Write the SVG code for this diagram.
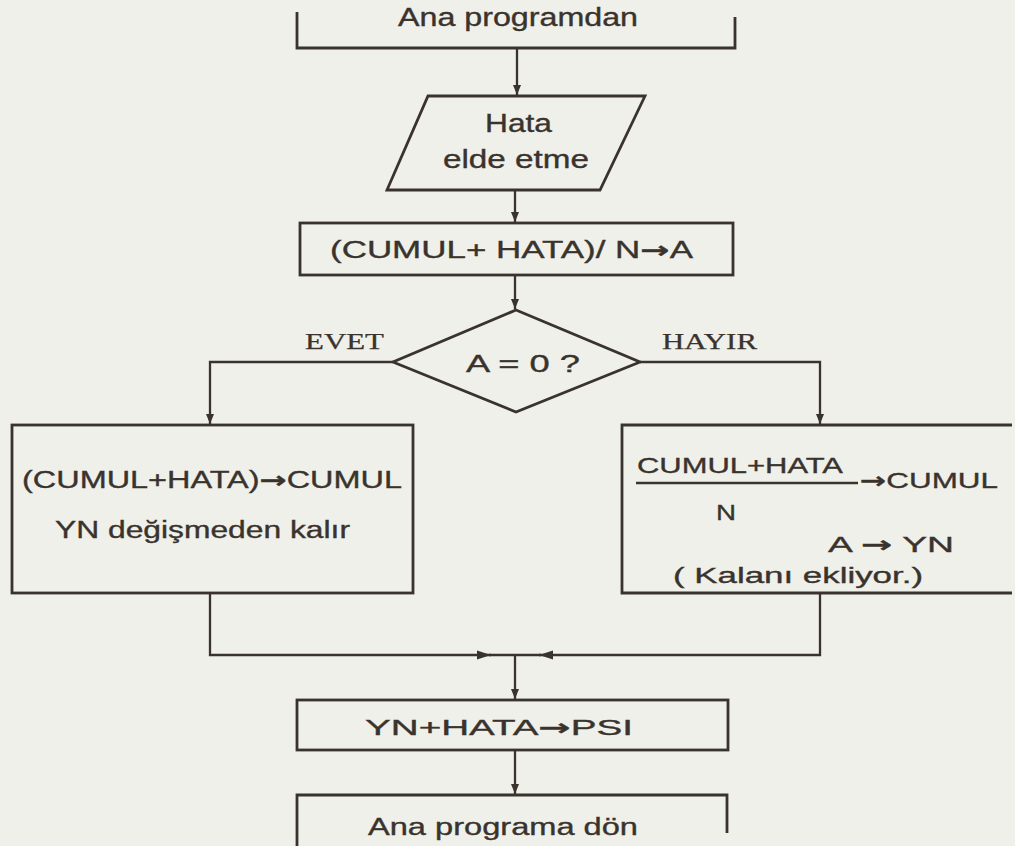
<svg xmlns="http://www.w3.org/2000/svg" width="1015" height="846" viewBox="0 0 1015 846">
  <style>
    .bg { fill: #eff0ea; }
    .shape { fill: none; stroke: #3a332d; stroke-width: 2.8; stroke-linejoin: miter; }
    .wire { fill: none; stroke: #3a332d; stroke-width: 2.3; }
    .lbl { font-family: "Liberation Sans", Arial, sans-serif; fill: #3a332d; stroke: #3a332d; stroke-width: 0.35; }
    .tag { font-family: "Liberation Serif", "Times New Roman", serif; fill: #3a332d; stroke: #3a332d; stroke-width: 0.25; }
    .arr { font-family: "DejaVu Sans", sans-serif; font-weight: bold; }
  </style>
  <defs>
    <marker id="arrow" viewBox="0 0 10 10" refX="10" refY="5" markerWidth="10" markerHeight="11" markerUnits="userSpaceOnUse" orient="auto">
      <path d="M0,1 L10,5 L0,9 Z" fill="#3a332d"/>
    </marker>
    <marker id="arrowBold" viewBox="0 0 14 10" refX="14" refY="5" markerWidth="14" markerHeight="10" markerUnits="userSpaceOnUse" orient="auto">
      <path d="M0,0.5 L14,5 L0,9.5 Z" fill="#3a332d"/>
    </marker>
  </defs>

  <rect class="bg" x="0" y="0" width="1015" height="846"/>

  <!-- entry from main program -->
  <g id="n-start">
    <path class="shape" d="M297,12 V48 H735 V17"/>
    <text class="lbl" x="398" y="26" font-size="25" textLength="240" lengthAdjust="spacingAndGlyphs">Ana programdan</text>
  </g>

  <!-- error input -->
  <g id="n-input">
    <polygon class="shape" points="428,96 645,96 600,190 387,190"/>
    <text class="lbl" x="485" y="132" font-size="25" textLength="67" lengthAdjust="spacingAndGlyphs">Hata</text>
    <text class="lbl" x="443" y="168" font-size="25" textLength="146" lengthAdjust="spacingAndGlyphs">elde etme</text>
  </g>

  <!-- average computation -->
  <g id="n-compute">
    <rect class="shape" x="300" y="223" width="433" height="52"/>
    <text class="lbl" x="330" y="258" font-size="23" textLength="363" lengthAdjust="spacingAndGlyphs">(CUMUL+ HATA)/ N<tspan class="arr">→</tspan>A</text>
  </g>

  <!-- zero test -->
  <g id="n-decision">
    <polygon class="shape" points="516,310 640,362 516,412 393,362"/>
    <text class="lbl" x="466" y="372" font-size="23" textLength="114" lengthAdjust="spacingAndGlyphs">A = 0 ?</text>
  </g>

  <!-- yes branch -->
  <g id="n-yes">
    <rect class="shape" x="12" y="425" width="401" height="168"/>
    <text class="lbl" x="22" y="488" font-size="23" textLength="380" lengthAdjust="spacingAndGlyphs">(CUMUL+HATA)<tspan class="arr">→</tspan>CUMUL</text>
    <text class="lbl" x="55" y="538" font-size="23" textLength="295" lengthAdjust="spacingAndGlyphs">YN değişmeden kalır</text>
  </g>

  <!-- no branch -->
  <g id="n-no">
    <path class="shape" d="M1012,425 H622 V593 H1012"/>
    <text class="lbl" x="637" y="473" font-size="22" textLength="206" lengthAdjust="spacingAndGlyphs">CUMUL+HATA</text>
    <line class="wire" x1="636" y1="483" x2="858" y2="483"/>
    <text class="lbl" x="860" y="488" font-size="22" textLength="138" lengthAdjust="spacingAndGlyphs"><tspan class="arr">→</tspan>CUMUL</text>
    <text class="lbl" x="716" y="520" font-size="22" textLength="20" lengthAdjust="spacingAndGlyphs">N</text>
    <text class="lbl" x="828" y="552" font-size="22" textLength="126" lengthAdjust="spacingAndGlyphs">A <tspan class="arr">→</tspan> YN</text>
    <text class="lbl" x="673" y="583" font-size="22" textLength="250" lengthAdjust="spacingAndGlyphs">( Kalanı ekliyor.)</text>
  </g>

  <!-- output value -->
  <g id="n-psi">
    <rect class="shape" x="297" y="700" width="431" height="50"/>
    <text class="lbl" x="365" y="735" font-size="22" textLength="268" lengthAdjust="spacingAndGlyphs">YN+HATA<tspan class="arr">→</tspan>PSI</text>
  </g>

  <!-- return to main program -->
  <g id="n-return">
    <path class="shape" d="M297,846 V795 H727 V833"/>
    <text class="lbl" x="368" y="835" font-size="23" textLength="270" lengthAdjust="spacingAndGlyphs">Ana programa dön</text>
  </g>

  <!-- flow lines -->
  <g id="connectors">
    <path class="wire" d="M517,48 V95" marker-end="url(#arrow)"/>
    <path class="wire" d="M515,190 V222" marker-end="url(#arrow)"/>
    <path class="wire" d="M515,275 V309" marker-end="url(#arrow)"/>
    <path class="wire" d="M393,362 H210 V424" marker-end="url(#arrow)"/>
    <path class="wire" d="M640,362 H820 V424" marker-end="url(#arrow)"/>
    <path class="wire" d="M210,593 V655 H491" marker-end="url(#arrowBold)"/>
    <path class="wire" d="M820,593 V655 H539" marker-end="url(#arrowBold)"/>
    <path class="wire" d="M489,655 H541"/>
    <path class="wire" d="M515,655 V699" marker-end="url(#arrow)"/>
    <path class="wire" d="M515,750 V794" marker-end="url(#arrow)"/>
  </g>

  <!-- branch labels -->
  <g id="branch-labels">
    <text class="tag" x="305" y="349" font-size="23" textLength="79" lengthAdjust="spacingAndGlyphs">EVET</text>
    <text class="tag" x="662" y="349" font-size="23" textLength="95" lengthAdjust="spacingAndGlyphs">HAYIR</text>
  </g>
</svg>
